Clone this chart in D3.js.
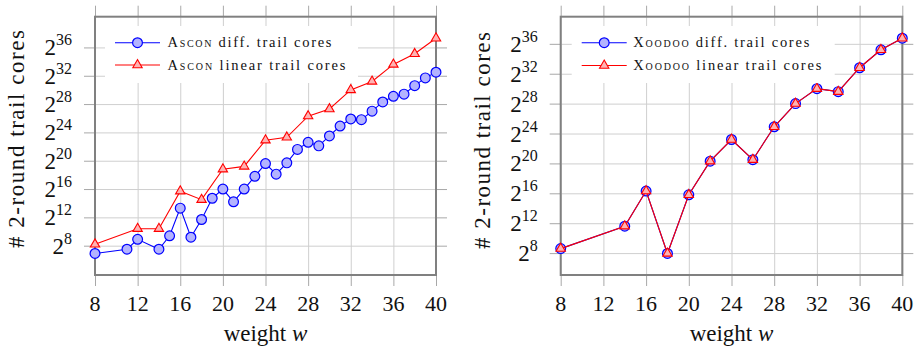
<!DOCTYPE html>
<html>
<head>
<meta charset="utf-8">
<script src="https://cdn.jsdelivr.net/npm/d3@7"></script>
</head>
<body style="margin:0">
<svg id="chart" width="917" height="349"></svg>
<script>
// Trail-core counts per weight, stored as log2 of the number of cores.
const xTickValues = [8, 12, 16, 20, 24, 28, 32, 36, 40];
const yTickExponents = [8, 12, 16, 20, 24, 28, 32, 36];

const asconDiffWeights = [8, 11, 12, 14, 15, 16, 17, 18, 19, 20, 21, 22, 23, 24, 25, 26, 27, 28, 29, 30, 31, 32, 33, 34, 35, 36, 37, 38, 39, 40];
const asconDiffLog2 = [6.9, 7.5, 8.9, 7.5, 9.4, 13.3, 9.2, 11.7, 14.7, 16.0, 14.2, 16.0, 17.8, 19.6, 18.1, 19.7, 21.6, 22.6, 22.1, 23.5, 24.9, 25.9, 25.8, 27.0, 28.3, 29.1, 29.4, 30.6, 31.7, 32.5];

const asconLinWeights = [8, 12, 14, 16, 18, 20, 22, 24, 26, 28, 30, 32, 34, 36, 38, 40];
const asconLinLog2 = [8.2, 10.4, 10.4, 15.7, 14.5, 18.8, 19.2, 22.9, 23.3, 26.3, 27.3, 30.0, 31.2, 33.6, 35.1, 37.3];

const xoodooWeights = [8, 14, 16, 18, 20, 22, 24, 26, 28, 30, 32, 34, 36, 38, 40];
const xoodooDiffLog2 = [8.6, 11.6, 16.3, 7.95, 15.8, 20.3, 23.2, 20.5, 24.9, 28.0, 30.0, 29.6, 32.8, 35.2, 36.75];
const xoodooLinLog2 = [8.6, 11.6, 16.3, 7.95, 15.8, 20.3, 23.2, 20.5, 24.9, 28.0, 30.0, 29.6, 32.8, 35.2, 36.75];

const axisLabelY = "# 2-round trail cores";

const zip = (xs, ys) => xs.map((w, i) => ({ w, v: ys[i] }));

const diffStyle = { kind: "circle", stroke: "#0000ff", fill: "#b3b3ff", suffix: " diff. trail cores" };
const linStyle = { kind: "triangle", stroke: "#ff0000", fill: "#ffb3b3", suffix: " linear trail cores" };

const panels = [
  {
    name: "Ascon",
    left: 95, right: 436, top: 16.7, bottom: 275,
    series: [
      { data: zip(asconDiffWeights, asconDiffLog2), style: diffStyle },
      { data: zip(asconLinWeights, asconLinLog2), style: linStyle }
    ],
    legend: { x: 105, y: 26, w: 253, h: 57, lineX0: 115, lineX1: 160, textX: 167.5, rowY: [42.7, 65], textW: [164, 178] },
    yLabel: { x: 24, y: 139, len: 218 },
    xLabelX: 265.5
  },
  {
    name: "Xoodoo",
    left: 560.7, right: 902.3, top: 16.7, bottom: 275,
    series: [
      { data: zip(xoodooWeights, xoodooDiffLog2), style: diffStyle },
      { data: zip(xoodooWeights, xoodooLinLog2), style: linStyle }
    ],
    legend: { x: 571.7, y: 26, w: 263, h: 57, lineX0: 581.7, lineX1: 626.7, textX: 633.3, rowY: [42.7, 65.5], textW: [176, 188] },
    yLabel: { x: 489.5, y: 140.5, len: 217 },
    xLabelX: 731.5
  }
];

const svg = d3.select("#chart");
const textFont = '"Liberation Serif", "Inter"';
const textColor = "#111";
const tickLen = 11;
const gridColor = "#cfcfcf";
const tickColor = "#a8a8a8";
const frameColor = "#808080";

function drawMarker(g, kind, cx, cy, stroke, fill) {
  if (kind === "circle") {
    g.append("circle").attr("cx", cx).attr("cy", cy).attr("r", 4.9)
      .attr("fill", fill).attr("stroke", stroke).attr("stroke-width", 1.2);
  } else {
    const R = 5.4;
    const pts = [[cx, cy - R], [cx + R * 0.866, cy + R * 0.5], [cx - R * 0.866, cy + R * 0.5]];
    g.append("polygon").attr("points", pts.map(p => p.join(",")).join(" "))
      .attr("fill", fill).attr("stroke", stroke).attr("stroke-width", 1.1).attr("stroke-linejoin", "miter");
  }
}

panels.forEach(p => {
  const g = svg.append("g");
  const all = p.series.flatMap(s => s.data.map(d => d.v));
  const [lo, hi] = d3.extent(all);
  const pad = (hi - lo) * 0.1;

  const x = d3.scaleLinear().domain([8, 40]).range([p.left, p.right]);
  const y = d3.scaleLinear().domain([lo - pad, hi + pad]).range([p.bottom, p.top]);
  const w = p.right - p.left, h = p.bottom - p.top;

  // grid
  g.append("g").attr("transform", `translate(0,${p.bottom})`)
    .call(d3.axisBottom(x).tickValues(xTickValues).tickSize(-h).tickFormat("").tickSizeOuter(0))
    .call(a => a.select(".domain").remove())
    .call(a => a.selectAll("line").attr("stroke", gridColor).attr("stroke-width", 1));
  g.append("g").attr("transform", `translate(${p.left},0)`)
    .call(d3.axisLeft(y).tickValues(yTickExponents).tickSize(-w).tickFormat("").tickSizeOuter(0))
    .call(a => a.select(".domain").remove())
    .call(a => a.selectAll("line").attr("stroke", gridColor).attr("stroke-width", 1));

  // outside tick marks on all four sides
  const tickAxes = [
    [d3.axisBottom(x).tickValues(xTickValues), `translate(0,${p.bottom})`],
    [d3.axisTop(x).tickValues(xTickValues), `translate(0,${p.top})`],
    [d3.axisLeft(y).tickValues(yTickExponents), `translate(${p.left},0)`],
    [d3.axisRight(y).tickValues(yTickExponents), `translate(${p.right},0)`]
  ];
  tickAxes.forEach(([ax, tr]) => {
    g.append("g").attr("transform", tr)
      .call(ax.tickSize(tickLen).tickFormat("").tickSizeOuter(0))
      .call(a => a.select(".domain").remove())
      .call(a => a.selectAll("line").attr("stroke", tickColor).attr("stroke-width", 1));
  });

  // frame
  g.append("rect").attr("x", p.left).attr("y", p.top).attr("width", w).attr("height", h)
    .attr("fill", "none").attr("stroke", frameColor).attr("stroke-width", 2);

  // x tick labels
  g.append("g").selectAll("text").data(xTickValues).join("text")
    .style("font-family", textFont)
    .attr("x", d => x(d)).attr("y", 311)
    .attr("text-anchor", "middle").attr("font-size", 22).attr("fill", textColor)
    .text(d => d);

  // y tick labels as powers of two
  const yl = g.append("g").selectAll("text").data(yTickExponents).join("text")
    .style("font-family", textFont)
    .attr("x", p.left - 23).attr("y", d => y(d) + 8)
    .attr("text-anchor", "end").attr("fill", textColor);
  yl.append("tspan").attr("font-size", 23).text("2");
  yl.append("tspan").attr("font-size", 16).attr("dy", -10).text(d => d);

  // axis titles
  const xl = g.append("text")
    .style("font-family", textFont)
    .attr("x", p.xLabelX).attr("y", 341)
    .attr("text-anchor", "middle").attr("font-size", 23).attr("fill", textColor);
  xl.append("tspan").text("weight ");
  xl.append("tspan").attr("font-style", "italic").text("w");

  g.append("text")
    .style("font-family", textFont)
    .attr("transform", `translate(${p.yLabel.x},${p.yLabel.y}) rotate(-90)`)
    .attr("text-anchor", "middle").attr("font-size", 23).attr("fill", textColor)
    .attr("textLength", p.yLabel.len).attr("lengthAdjust", "spacing")
    .text(axisLabelY);

  // series: line then markers
  p.series.forEach(s => {
    const line = d3.line().x(d => x(d.w)).y(d => y(d.v));
    g.append("path").datum(s.data).attr("d", line)
      .attr("fill", "none").attr("stroke", s.style.stroke).attr("stroke-width", 1.1);
    const mg = g.append("g");
    s.data.forEach(d => drawMarker(mg, s.style.kind, x(d.w), y(d.v), s.style.stroke, s.style.fill));
  });

  // legend
  const L = p.legend;
  const lg = g.append("g");
  lg.append("rect").attr("x", L.x).attr("y", L.y).attr("width", L.w).attr("height", L.h).attr("fill", "#fff");
  p.series.forEach((s, i) => {
    const ry = L.rowY[i];
    lg.append("line").attr("x1", L.lineX0).attr("x2", L.lineX1).attr("y1", ry).attr("y2", ry)
      .attr("stroke", s.style.stroke).attr("stroke-width", 1.1);
    drawMarker(lg, s.style.kind, (L.lineX0 + L.lineX1) / 2, ry, s.style.stroke, s.style.fill);
    const t = lg.append("text")
      .style("font-family", textFont)
      .attr("x", L.textX).attr("y", ry + 4.5)
      .attr("font-size", 14.5).attr("fill", textColor)
      .attr("textLength", L.textW[i]).attr("lengthAdjust", "spacing");
    t.append("tspan").style("font-variant", "small-caps").text(p.name);
    t.append("tspan").text(s.style.suffix);
  });
});
</script>
</body>
</html>
